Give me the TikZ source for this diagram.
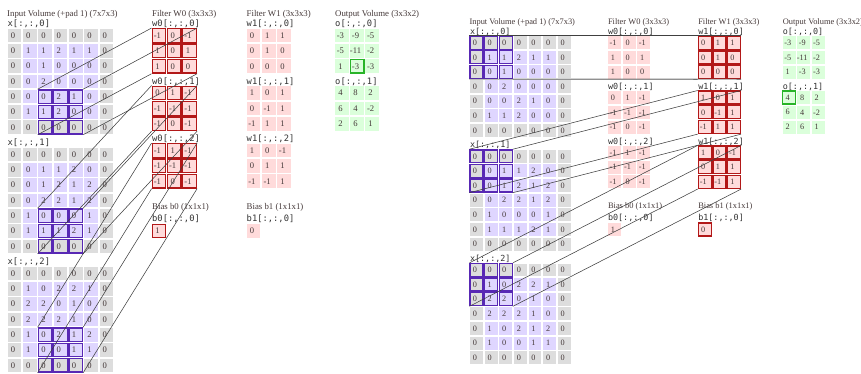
\documentclass[tikz,border=0pt]{standalone}
\usepackage{fontspec}
\setmainfont{Liberation Serif}
\setmonofont{DejaVu Sans Mono}
\definecolor{PadClr}{RGB}{221,221,221}
\definecolor{InClr}{RGB}{223,214,255}
\definecolor{WClr}{RGB}{255,219,219}
\definecolor{OutClr}{RGB}{219,255,219}
\definecolor{InEdge}{RGB}{88,40,180}
\definecolor{WEdge}{RGB}{178,24,24}
\definecolor{OutEdge}{RGB}{40,180,40}
\definecolor{TxtClr}{RGB}{68,56,56}
\definecolor{LinkClr}{RGB}{64,64,64}

\begin{document}
\begin{tikzpicture}[x=1pt,y=-1pt,
  cell/.style={rectangle,minimum width=13.6pt,minimum height=13.6pt,inner sep=0pt,line width=1.3pt},
  num/.style={inner sep=0pt,text=TxtClr,font=\fontsize{8.6}{10}\selectfont},
  heading/.style={anchor=west,inner sep=0pt,text=TxtClr,font=\fontsize{8.8}{10}\selectfont},
  slicelbl/.style={anchor=west,inner sep=0pt,text=black!80,font=\fontsize{8.8}{10}\selectfont\ttfamily},
  link/.style={draw=LinkClr,line width=0.55pt}]
\useasboundingbox (0,0) rectangle (861,374);

% L = first step, R = second step (same layout, a bit smaller)
\foreach \p/\sx/\sy/\sc/\hr/\hc/\hw/\ho/\oR/\oC in
  {L/0/0/1/4/2/0/0/2/1, R/462.7/8.8/0.955/0/0/1/1/0/0}{
\begin{scope}[shift={(\sx,\sy)},scale=\sc,transform shape]

\node[heading] (\p-tin) at (7,14) {Input Volume (+pad 1) (7x7x3)};
\node[heading] (\p-tw0) at (152,14) {Filter W0 (3x3x3)};
\node[heading] (\p-tw1) at (246.5,14) {Filter W1 (3x3x3)};
\node[heading] (\p-tout) at (335,14) {Output Volume (3x3x2)};

% input volume
\foreach \s/\rows in {0/{{0,0,0,0,0,0,0},{0,1,1,2,1,1,0},{0,0,1,0,0,0,0},{0,0,2,0,0,0,0},{0,0,0,2,1,0,0},{0,1,1,2,0,0,0},{0,0,0,0,0,0,0}},
  1/{{0,0,0,0,0,0,0},{0,0,1,1,2,0,0},{0,0,1,2,1,2,0},{0,0,2,2,1,2,0},{0,1,0,0,0,1,0},{0,1,1,1,2,1,0},{0,0,0,0,0,0,0}},
  2/{{0,0,0,0,0,0,0},{0,1,0,2,2,1,0},{0,2,2,0,1,0,0},{0,2,2,2,1,0,0},{0,1,0,2,1,2,0},{0,1,0,0,1,1,0},{0,0,0,0,0,0,0}}}{
  \node[slicelbl] (\p-xl\s) at (7.5,24+119*\s) {x[:,:,\s]};
  \foreach \row [count=\ri from 0] in \rows {
    \foreach \v [count=\ci from 0] in \row {
      \pgfmathtruncatemacro\pad{or(or(\ri==0,\ri==6),or(\ci==0,\ci==6))}
      \pgfmathtruncatemacro\hit{and(and(\ri>=\hr,\ri<=\hr+2),and(\ci>=\hc,\ci<=\hc+2))}
      \ifnum\pad=1 \def\fc{PadClr}\else\def\fc{InClr}\fi
      \ifnum\hit=1 \def\ec{InEdge}\else\def\ec{none}\fi
      \node[cell,fill=\fc,draw=\ec] (\p-x\s-\ri-\ci) at ({14.5+15.3*\ci},{35.5+119*\s+15.3*\ri}) {};
      \node[num] at ([xshift=-1.6pt]\p-x\s-\ri-\ci.center) {\v};
    }
  }
}

% filters W0 and W1
\foreach \f/\fx/\s/\rows in {0/0/0/{{-1,0,-1},{1,0,1},{1,0,0}}, 0/0/1/{{0,1,-1},{-1,-1,-1},{-1,0,-1}},
  0/0/2/{{-1,1,-1},{-1,-1,-1},{-1,0,-1}}, 1/94.5/0/{{0,1,1},{0,1,0},{0,0,0}},
  1/94.5/1/{{1,0,1},{0,-1,1},{-1,1,1}}, 1/94.5/2/{{1,0,-1},{0,1,1},{-1,-1,1}}}{
  \node[slicelbl] (\p-wl\f\s) at (152+\fx,24+57.5*\s) {w\f[:,:,\s]};
  \ifnum\f=\hw \def\ec{WEdge}\else\def\ec{none}\fi
  \foreach \row [count=\ri from 0] in \rows {
    \foreach \v [count=\ci from 0] in \row {
      \node[cell,fill=WClr,draw=\ec] (\p-w\f\s-\ri-\ci) at ({159+\fx+15.3*\ci},{35.5+57.5*\s+15.4*\ri}) {};
      \node[num] at ([xshift=-1.6pt]\p-w\f\s-\ri-\ci.center) {\v};
    }
  }
}

% biases
\foreach \f/\fx/\bv in {0/0/1, 1/94.5/0}{
  \ifnum\f=\hw \def\ec{WEdge}\else\def\ec{none}\fi
  \node[heading] (\p-tb\f) at (152+\fx,207) {Bias b\f\ (1x1x1)};
  \node[slicelbl] (\p-bl\f) at (152+\fx,218.5) {b\f[:,:,0]};
  \node[cell,fill=WClr,draw=\ec] (\p-b\f) at (159+\fx,231) {};
  \node[num] at ([xshift=-1.6pt]\p-b\f.center) {\bv};
}

% output volume
\foreach \s/\rows in {0/{{-3,-9,-5},{-5,-11,-2},{1,-3,-3}}, 1/{{4,8,2},{6,4,-2},{2,6,1}}}{
  \node[slicelbl] (\p-ol\s) at (335,24+57.5*\s) {o[:,:,\s]};
  \foreach \row [count=\ri from 0] in \rows {
    \foreach \v [count=\ci from 0] in \row {
      \pgfmathtruncatemacro\hit{and(\s==\ho,and(\ri==\oR,\ci==\oC))}
      \ifnum\hit=1 \def\ec{OutEdge}\else\def\ec{none}\fi
      \node[cell,fill=OutClr,draw=\ec] (\p-o\s-\ri-\ci) at ({342+15.1*\ci},{35.5+57.5*\s+15.4*\ri}) {};
      \node[num] at ([xshift=-1.6pt]\p-o\s-\ri-\ci.center) {\v};
    }
  }
}

% links from the input window to the active filter
\pgfmathtruncatemacro\rb{\hr+2}
\pgfmathtruncatemacro\cb{\hc+2}
\foreach \s in {0,1,2}{
  \draw[link] (\p-x\s-\hr-\hc.north west) -- (\p-w\hw\s-0-0.north west);
  \draw[link] (\p-x\s-\hr-\cb.north east) -- (\p-w\hw\s-0-2.north east);
  \draw[link] (\p-x\s-\rb-\hc.south west) -- (\p-w\hw\s-2-0.south west);
  \draw[link] (\p-x\s-\rb-\cb.south east) -- (\p-w\hw\s-2-2.south east);
}
\end{scope}
}
\end{tikzpicture}
\end{document}
